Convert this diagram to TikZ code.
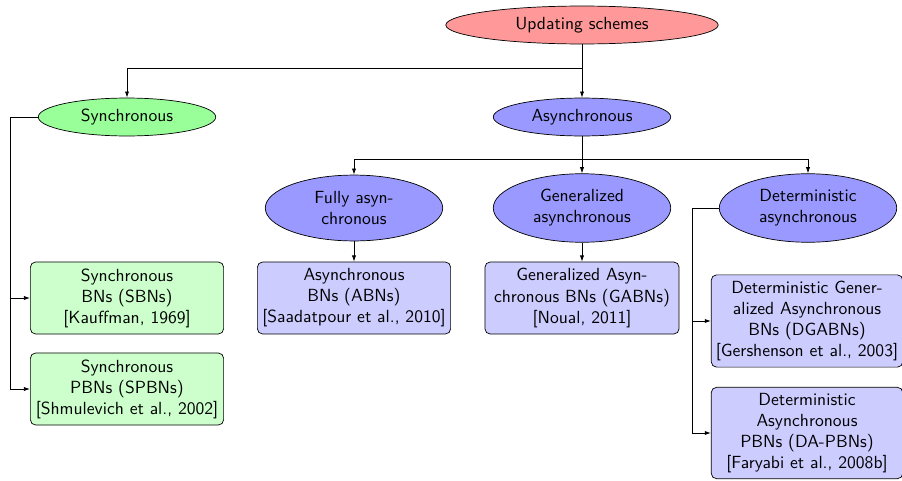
\documentclass[tikz,border=0pt]{standalone}
\usetikzlibrary{shapes.geometric,arrows.meta}
\begin{document}
\begin{tikzpicture}[x={(0.02cm,0)},y={(0,-0.02cm)},
  every node/.style={font=\sffamily,align=center},
  scheme/.style={ellipse,draw,inner sep=0pt},
  model/.style={draw,rounded corners=3pt,inner sep=0pt},
  link/.style={line width=0.45pt},
  arr/.style={link,-{Latex[length=3.5pt,width=2.4pt]}}]
\useasboundingbox (0,0) rectangle (902,480);

% updating schemes and the two main families
\node[scheme,fill=red!40,minimum width=155pt,minimum height=21.6pt] (us) at (582,25) {Updating schemes};
\node[scheme,fill=green!40,minimum width=101pt,minimum height=21.6pt] (sync) at (127,117) {Synchronous};
\node[scheme,fill=blue!40,minimum width=101pt,minimum height=21.6pt] (async) at (582,117) {Asynchronous};

% asynchronous variants
\node[scheme,fill=blue!40,minimum width=101pt,minimum height=37.5pt] (fa) at (354,208) {Fully asyn-\\chronous};
\node[scheme,fill=blue!40,minimum width=101pt,minimum height=39pt] (ga) at (582,208) {Generalized\\asynchronous};
\node[scheme,fill=blue!40,minimum width=101pt,minimum height=39pt] (da) at (808,208) {Deterministic\\asynchronous};

% network models
\node[model,fill=green!20,minimum width=110pt,minimum height=41pt] (sbn) at (127,298) {Synchronous\\BNs (SBNs)\\{[}Kauffman, 1969{]}};
\node[model,fill=green!20,minimum width=110pt,minimum height=41pt] (spbn) at (127,389) {Synchronous\\PBNs (SPBNs)\\{[}Shmulevich et al., 2002{]}};
\node[model,fill=blue!20,minimum width=110pt,minimum height=41pt] (abn) at (354,298) {Asynchronous\\BNs (ABNs)\\{[}Saadatpour et al., 2010{]}};
\node[model,fill=blue!20,minimum width=110.5pt,minimum height=41pt] (gabn) at (582,298) {Generalized Asyn-\\chronous BNs (GABNs)\\{[}Noual, 2011{]}};
\node[model,fill=blue!20,minimum width=109pt,minimum height=52.5pt] (dgabn) at (807,321) {Deterministic Gener-\\alized Asynchronous\\BNs (DGABNs)\\{[}Gershenson et al., 2003{]}};
\node[model,fill=blue!20,minimum width=109pt,minimum height=52pt] (dapbn) at (807,433) {Deterministic\\Asynchronous\\PBNs (DA-PBNs)\\{[}Faryabi et al., 2008b{]}};

% junctions of the tree
\coordinate (j1) at (582,68);
\coordinate (j2) at (582,159);

% connectors
\draw[link] (us.south) -- (j1);
\draw[arr] (j1) -| (sync.north);
\draw[arr] (j1) -- (async.north);
\draw[link] (async.south) -- (j2);
\draw[arr] (j2) -| (fa.north);
\draw[arr] (j2) -- (ga.north);
\draw[arr] (j2) -| (da.north);
\draw[arr] (fa.south) -- (abn.north);
\draw[arr] (ga.south) -- (gabn.north);
\draw[arr] (sync.west) -- ++(-28,0) |- (sbn.west);
\draw[arr] (sync.west) -- ++(-28,0) |- (spbn.west);
\draw[arr] (da.west) -- ++(-27,0) |- (dgabn.west);
\draw[arr] (da.west) -- ++(-27,0) |- (dapbn.west);
\end{tikzpicture}
\end{document}
